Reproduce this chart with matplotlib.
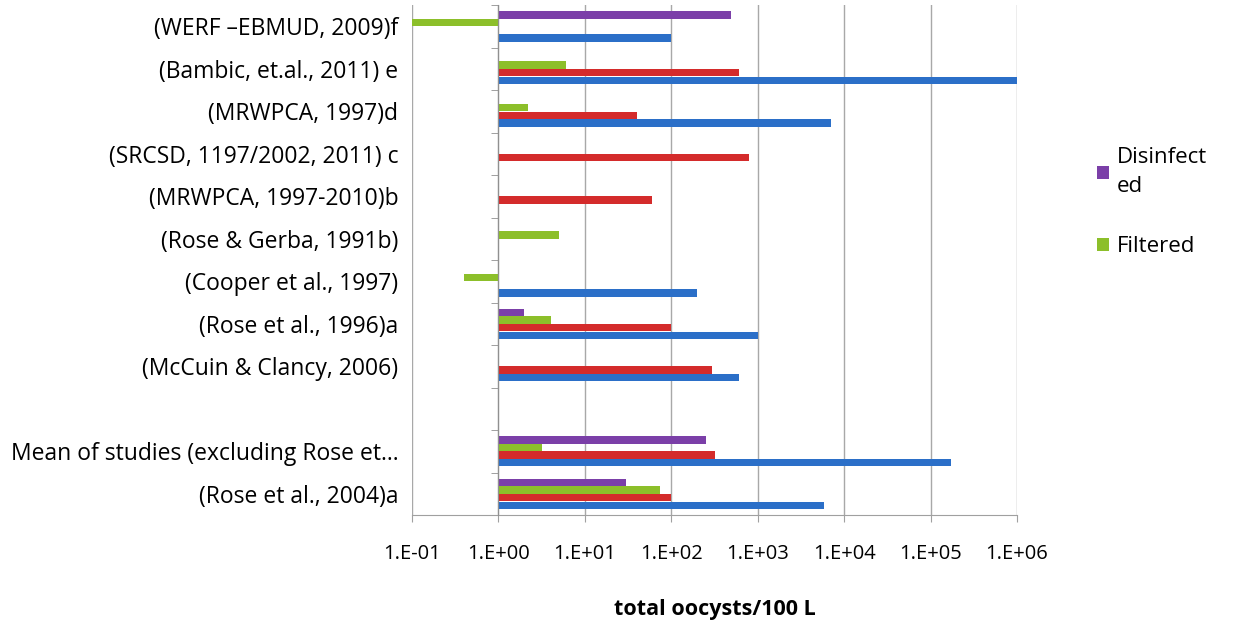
import numpy as np
import matplotlib.pyplot as plt
from matplotlib.ticker import FixedLocator, NullFormatter

plt.rcParams['font.family'] = ['Open Sans', 'DejaVu Sans']

# categories, bottom to top (as in the source chart)
studies = ['(Rose et al., 2004)a',
           'Mean of studies (excluding Rose et\u2026',
           '',
           '(McCuin & Clancy, 2006)',
           '(Rose et al., 1996)a',
           '(Cooper et al., 1997)',
           '(Rose & Gerba, 1991b)',
           '(MRWPCA, 1997-2010)b',
           '(SRCSD, 1197/2002, 2011) c',
           '(MRWPCA, 1997)d',
           '(Bambic, et.al., 2011) e',
           '(WERF \u2013EBMUD, 2009)f']

# total oocysts/100 L, nan = no data
blue = [5900, 170000, np.nan, 600, 1000, 200, np.nan, np.nan, np.nan, 7100, 1.0e6, 100]
red = [100, 320, np.nan, 295, 100, np.nan, np.nan, 60, 800, 40, 600, np.nan]
filtered = [73, 3.2, np.nan, np.nan, 4.0, 0.40, 5.0, np.nan, np.nan, 2.2, 6.1, 0.1]
disinfected = [30, 250, np.nan, np.nan, 2.0, np.nan, np.nan, np.nan, np.nan, np.nan, np.nan, 495]

series = [('Raw', blue, '#2b6fc8'),
          ('Secondary', red, '#d42b2b'),
          ('Filtered', filtered, '#8cbf2a'),
          ('Disinfect\ned', disinfected, '#7b3fa8')]

fig = plt.figure(figsize=(12.57, 6.31), dpi=100)
ax = fig.add_axes([0.3278, 0.1838, 0.4813, 0.808])

y = np.arange(len(studies))
h = 0.18
handles = {}
for i, (name, vals, col) in enumerate(series):
    v = np.array(vals, dtype=float)
    ok = ~np.isnan(v)
    # bars start where the category axis crosses (1.E+00)
    b = ax.barh(y[ok] + (i - 1.5) * h, v[ok] - 1, left=1, height=h * 0.97,
                color=col, zorder=3)
    handles[name] = b

ax.set_xscale('log')
ax.set_xlim(0.1, 1e6)
ax.set_ylim(-0.5, len(studies) - 0.5)
ax.set_xticks([10.0 ** k for k in range(-1, 7)])
ax.set_xticklabels(['1.E-01', '1.E+00', '1.E+01', '1.E+02', '1.E+03',
                    '1.E+04', '1.E+05', '1.E+06'])
ax.xaxis.set_minor_locator(FixedLocator([]))
ax.tick_params(axis='x', length=5, color='#a0a0a0', labelsize=14.5, pad=16)
ax.grid(axis='x', color='#a8a8a8', linewidth=1, zorder=0)

# category axis sits at 1.E+00, labels stay at the left
ax.spines['left'].set_position(('data', 1))
ax.spines['left'].set_color('#909090')
ax.spines['left'].set_zorder(4)
ax.set_yticks(y)
ax.set_yticklabels(studies)
ax.tick_params(axis='y', length=0, labelsize=16.5, pad=72)
ax.yaxis.set_minor_locator(FixedLocator(np.arange(-0.5, len(studies), 1.0)))
ax.yaxis.set_minor_formatter(NullFormatter())
ax.tick_params(axis='y', which='minor', length=5, color='#909090')
ax.spines['top'].set_visible(False)
ax.spines['right'].set_visible(False)
ax.spines['bottom'].set_color('#a0a0a0')

ax.set_xlabel('total oocysts/100 L', fontsize=15.5, fontweight='bold', labelpad=25)

leg = fig.legend([handles['Disinfect\ned'], handles['Filtered']],
                 ['Disinfect\ned', 'Filtered'],
                 loc='upper left', bbox_to_anchor=(0.857, 0.798),
                 frameon=False, fontsize=16, handlelength=0.55, handleheight=0.55,
                 handletextpad=0.35, labelspacing=1.75)
for t in leg.get_texts():
    t.set_linespacing(1.5)

fig.savefig('out.png', dpi=100)
